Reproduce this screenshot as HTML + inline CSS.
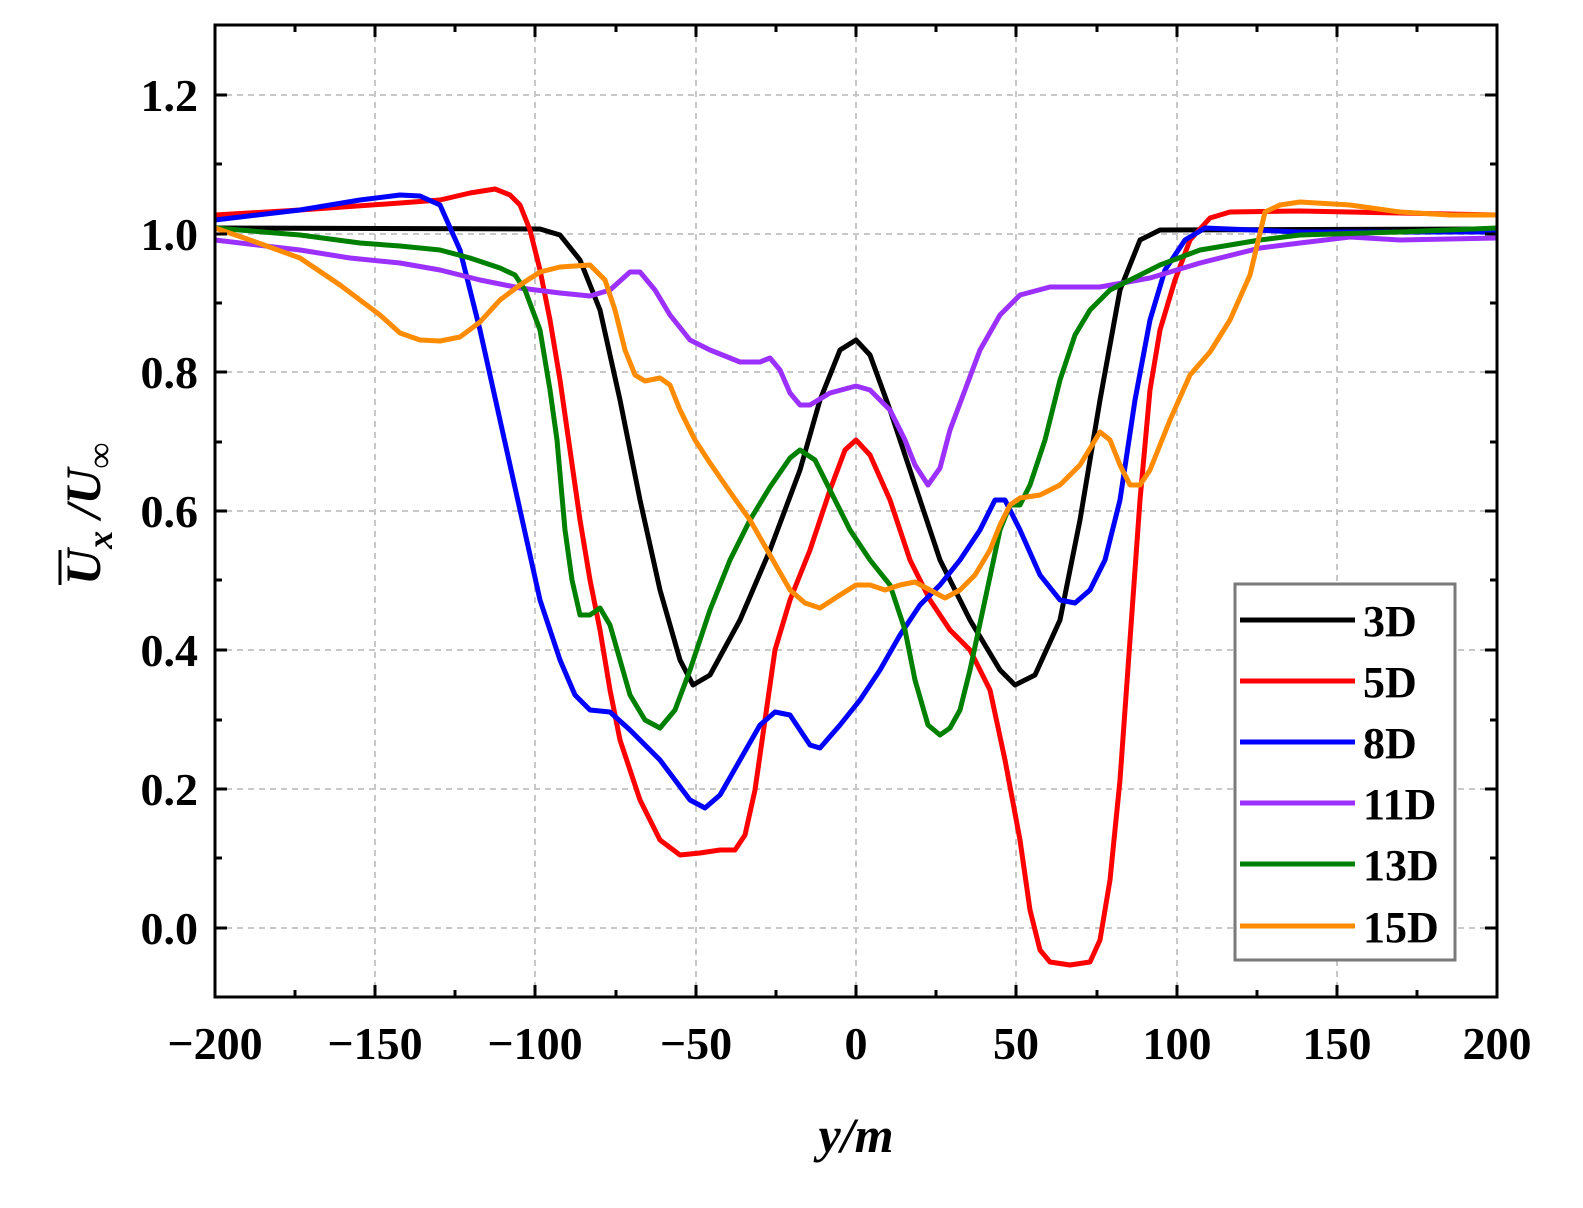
<!DOCTYPE html>
<html><head><meta charset="utf-8"><style>
html,body{margin:0;padding:0;background:#fff;}
svg{display:block;font-family:"Liberation Serif",serif;}
</style></head><body>
<svg width="1583" height="1208" viewBox="0 0 1583 1208" xmlns="http://www.w3.org/2000/svg">
<rect width="1583" height="1208" fill="#fff"/>
<g stroke="#c8c8c8" stroke-width="2" stroke-dasharray="6,5">
<line x1="375" y1="25" x2="375" y2="997"/><line x1="535" y1="25" x2="535" y2="997"/><line x1="696" y1="25" x2="696" y2="997"/><line x1="856" y1="25" x2="856" y2="997"/><line x1="1016" y1="25" x2="1016" y2="997"/><line x1="1177" y1="25" x2="1177" y2="997"/><line x1="1337" y1="25" x2="1337" y2="997"/>
<line x1="215" y1="928" x2="1497" y2="928"/><line x1="215" y1="789" x2="1497" y2="789"/><line x1="215" y1="650" x2="1497" y2="650"/><line x1="215" y1="511" x2="1497" y2="511"/><line x1="215" y1="372" x2="1497" y2="372"/><line x1="215" y1="234" x2="1497" y2="234"/><line x1="215" y1="95" x2="1497" y2="95"/>
</g>
<g fill="none" stroke-width="5" stroke-linejoin="round">
<polyline stroke="#000" points="215,228 540,229 560,235 580,260 600,310 620,400 640,500 660,590 680,660 693,685 710,675 740,620 770,550 800,470 820,400 840,350 856,340 870,355 890,410 910,470 940,560 970,620 1000,670 1015,685 1035,675 1060,620 1080,520 1100,400 1120,290 1140,240 1160,230 1497,229"/>
<polyline stroke="#ff0000" points="215,215 300,210 400,203 440,200 470,193 495,189 510,195 520,205 530,230 540,270 550,320 560,380 570,450 580,520 590,580 600,630 610,690 620,740 640,800 660,840 680,855 700,853 720,850 735,850 745,835 755,790 765,720 775,650 790,600 810,550 830,490 845,450 856,440 870,455 890,500 910,560 930,600 950,630 970,650 990,690 1005,760 1020,840 1030,910 1040,950 1050,962 1070,965 1090,962 1100,940 1110,880 1120,780 1130,640 1140,500 1150,390 1160,330 1175,280 1190,240 1210,218 1230,212 1300,211 1400,213 1497,215"/>
<polyline stroke="#0000ff" points="215,220 300,210 360,200 400,195 420,196 440,205 460,250 480,330 500,420 520,510 540,600 560,660 575,695 590,710 610,712 630,730 660,760 690,800 705,808 720,795 740,760 760,725 775,712 790,715 800,730 810,745 820,748 840,725 860,700 880,670 900,635 920,605 940,585 960,560 980,530 995,500 1005,500 1020,530 1040,575 1060,600 1075,603 1090,590 1105,560 1120,500 1135,400 1150,320 1165,270 1185,240 1205,228 1300,232 1497,232"/>
<polyline stroke="#9b30ff" points="215,240 300,250 350,258 400,263 440,270 480,280 520,288 560,293 590,296 610,290 630,272 640,272 655,290 670,315 690,340 710,350 740,362 760,362 770,358 780,370 790,393 800,405 810,405 830,393 856,386 870,390 890,410 905,440 915,465 928,485 940,468 950,430 965,390 980,350 1000,315 1020,295 1050,287 1100,287 1150,278 1200,263 1260,248 1300,243 1350,237 1400,240 1497,238"/>
<polyline stroke="#008000" points="215,228 300,235 360,243 400,246 440,250 470,258 500,268 515,275 525,290 540,330 550,390 557,440 565,530 572,580 580,615 590,615 600,608 610,625 620,660 630,695 645,720 660,728 675,710 690,670 710,610 730,560 750,520 770,487 790,458 800,450 815,460 830,490 850,530 870,560 890,585 905,630 915,680 928,725 940,735 950,728 960,710 970,670 985,600 1000,530 1010,505 1020,505 1030,485 1045,440 1060,380 1075,335 1090,310 1110,290 1130,280 1160,265 1200,250 1260,240 1300,235 1400,232 1497,228"/>
<polyline stroke="#ff8c00" points="215,228 250,240 300,258 340,285 380,315 400,333 420,340 440,341 460,337 480,322 500,300 520,285 540,272 560,267 590,265 605,280 615,310 625,350 635,375 645,381 660,378 670,385 680,410 695,440 710,463 730,492 750,520 770,555 790,590 805,603 820,608 840,595 856,585 870,585 885,590 900,585 915,582 930,590 945,598 960,590 975,575 990,550 1000,525 1010,505 1020,498 1040,495 1060,485 1080,465 1100,432 1110,440 1120,465 1130,485 1140,485 1150,470 1170,420 1190,375 1210,352 1230,320 1250,275 1265,212 1280,205 1300,202 1350,205 1400,212 1450,215 1497,215"/>
</g>
<rect x="215" y="25" width="1282" height="972" fill="none" stroke="#000" stroke-width="3"/>
<g stroke="#000" stroke-width="3">
<path d="M215,997v-12M375,997v-12M535,997v-12M696,997v-12M856,997v-12M1016,997v-12M1177,997v-12M1337,997v-12M1497,997v-12M295,997v-7M455,997v-7M616,997v-7M776,997v-7M936,997v-7M1097,997v-7M1257,997v-7M1417,997v-7"/>
<path d="M215,25v12M375,25v12M535,25v12M696,25v12M856,25v12M1016,25v12M1177,25v12M1337,25v12M1497,25v12M295,25v7M455,25v7M616,25v7M776,25v7M936,25v7M1097,25v7M1257,25v7M1417,25v7"/>
<path d="M215,928h12M215,789h12M215,650h12M215,511h12M215,372h12M215,234h12M215,95h12M215,858h7M215,720h7M215,580h7M215,442h7M215,303h7M215,164h7"/>
<path d="M1497,928h-12M1497,789h-12M1497,650h-12M1497,511h-12M1497,372h-12M1497,234h-12M1497,95h-12M1497,858h-7M1497,720h-7M1497,580h-7M1497,442h-7M1497,303h-7M1497,164h-7"/>
</g>
<g font-size="46" font-weight="bold" text-anchor="end">
<text x="198" y="944">0.0</text><text x="198" y="805">0.2</text><text x="198" y="666">0.4</text><text x="198" y="527">0.6</text><text x="198" y="388">0.8</text><text x="198" y="250">1.0</text><text x="198" y="111">1.2</text>
</g>
<g font-size="46" font-weight="bold" text-anchor="middle">
<text x="215" y="1059">−200</text><text x="375" y="1059">−150</text><text x="535" y="1059">−100</text><text x="696" y="1059">−50</text><text x="856" y="1059">0</text><text x="1016" y="1059">50</text><text x="1177" y="1059">100</text><text x="1337" y="1059">150</text><text x="1497" y="1059">200</text>
</g>
<text x="856" y="1152" font-size="50" font-weight="bold" font-style="italic" text-anchor="middle">y/m</text>
<g transform="translate(100,510) rotate(-90)" font-size="50" font-weight="bold" font-style="italic">
<text x="-75" y="0">U<tspan font-size="36" dy="12">x</tspan><tspan dy="-12"> /U</tspan><tspan font-size="36" font-style="normal" dy="12">∞</tspan></text>
<line x1="-75" y1="-40" x2="-40" y2="-40" stroke="#000" stroke-width="3"/>
</g>
<rect x="1235" y="584" width="220" height="376" fill="#fff" stroke="#7a7a7a" stroke-width="3"/>
<g stroke-width="5">
<line x1="1240" y1="620" x2="1355" y2="620" stroke="#000"/>
<line x1="1240" y1="681" x2="1355" y2="681" stroke="#ff0000"/>
<line x1="1240" y1="742" x2="1355" y2="742" stroke="#0000ff"/>
<line x1="1240" y1="803" x2="1355" y2="803" stroke="#9b30ff"/>
<line x1="1240" y1="864" x2="1355" y2="864" stroke="#008000"/>
<line x1="1240" y1="926" x2="1355" y2="926" stroke="#ff8c00"/>
</g>
<g font-size="44" font-weight="bold">
<text x="1363" y="636">3D</text><text x="1363" y="697">5D</text><text x="1363" y="758">8D</text><text x="1363" y="819">11D</text><text x="1363" y="880">13D</text><text x="1363" y="942">15D</text>
</g>
</svg>
</body></html>
